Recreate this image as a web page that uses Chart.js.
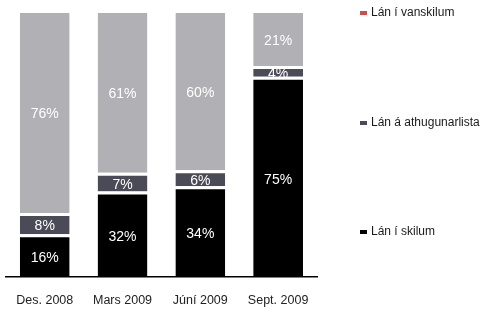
<!DOCTYPE html>
<html>
<head>
<meta charset="utf-8">
<script src="https://cdn.jsdelivr.net/npm/chart.js@4/dist/chart.umd.min.js"></script>
<style>
  html, body { margin: 0; padding: 0; background: #fff; }
  #wrap { width: 487px; height: 314px; position: relative; }
</style>
</head>
<body>
<div id="wrap"><canvas id="chart"></canvas></div>
<script>
const categories = ['Des. 2008', 'Mars 2009', 'Júní 2009', 'Sept. 2009'];
const seriesNames = ['Lán í skilum', 'Lán á athugunarlista', 'Lán í vanskilum'];
const skilum = [16, 32, 34, 75];
const athugun = [8, 7, 6, 4];
const vanskilum = [76, 61, 60, 21];

const barColors = ['#000000', '#4b4b57', '#b1b1b5'];
const legendColors = ['#000000', '#4b4b57', '#c9504f'];
const legendY = [232, 123, 13];

// percent labels centred in each segment
const segmentLabels = {
    id: 'segmentLabels',
    afterDatasetsDraw(chart) {
        const ctx = chart.ctx;
        ctx.save();
        ctx.font = '14px "Liberation Sans", Arial, sans-serif';
        ctx.fillStyle = '#ffffff';
        ctx.textAlign = 'center';
        ctx.textBaseline = 'middle';
        chart.data.datasets.forEach((ds, i) => {
            chart.getDatasetMeta(i).data.forEach((bar, j) => {
                const mid = (bar.y + bar.base) / 2;
                ctx.fillText(ds.data[j] + '%', bar.x, mid + 3);
            });
        });
        ctx.restore();
    }
};

// legend on the right, one entry per series
const sideLegend = {
    id: 'sideLegend',
    afterDraw(chart) {
        const ctx = chart.ctx;
        ctx.save();
        ctx.font = '12px "Liberation Sans", Arial, sans-serif';
        ctx.textBaseline = 'middle';
        ctx.textAlign = 'left';
        seriesNames.forEach((name, i) => {
            const y = legendY[i];
            ctx.fillStyle = legendColors[i];
            ctx.fillRect(360, y - 2, 7, 4);
            ctx.fillStyle = '#1a1a1a';
            ctx.fillText(name, 371, y);
        });
        ctx.restore();
    }
};

new Chart(document.getElementById('chart'), {
    type: 'bar',
    data: {
        labels: categories,
        datasets: [skilum, athugun, vanskilum].map((d, i) => ({
            label: seriesNames[i],
            data: d,
            backgroundColor: barColors[i],
            borderColor: '#ffffff',
            borderWidth: { top: 3, bottom: 0, left: 0, right: 0 },
            borderSkipped: false,
            barPercentage: 0.64,
            categoryPercentage: 1
        }))
    },
    options: {
        responsive: true,
        maintainAspectRatio: false,
        animation: false,
        layout: { padding: { left: 2, right: 170, top: 10, bottom: 0 } },
        plugins: { legend: { display: false }, tooltip: { enabled: false } },
        scales: {
            x: {
                stacked: true,
                grid: { display: false, drawTicks: false },
                border: { display: true, color: '#000000', width: 1.5 },
                ticks: {
                    padding: 16,
                    color: '#222222',
                    font: { family: '"Liberation Sans", Arial, sans-serif', size: 12.5 }
                },
                afterFit(scale) { scale.height = 37; }
            },
            y: {
                stacked: true,
                display: false,
                min: 0,
                max: 100
            }
        }
    },
    plugins: [segmentLabels, sideLegend]
});
</script>
</body>
</html>
